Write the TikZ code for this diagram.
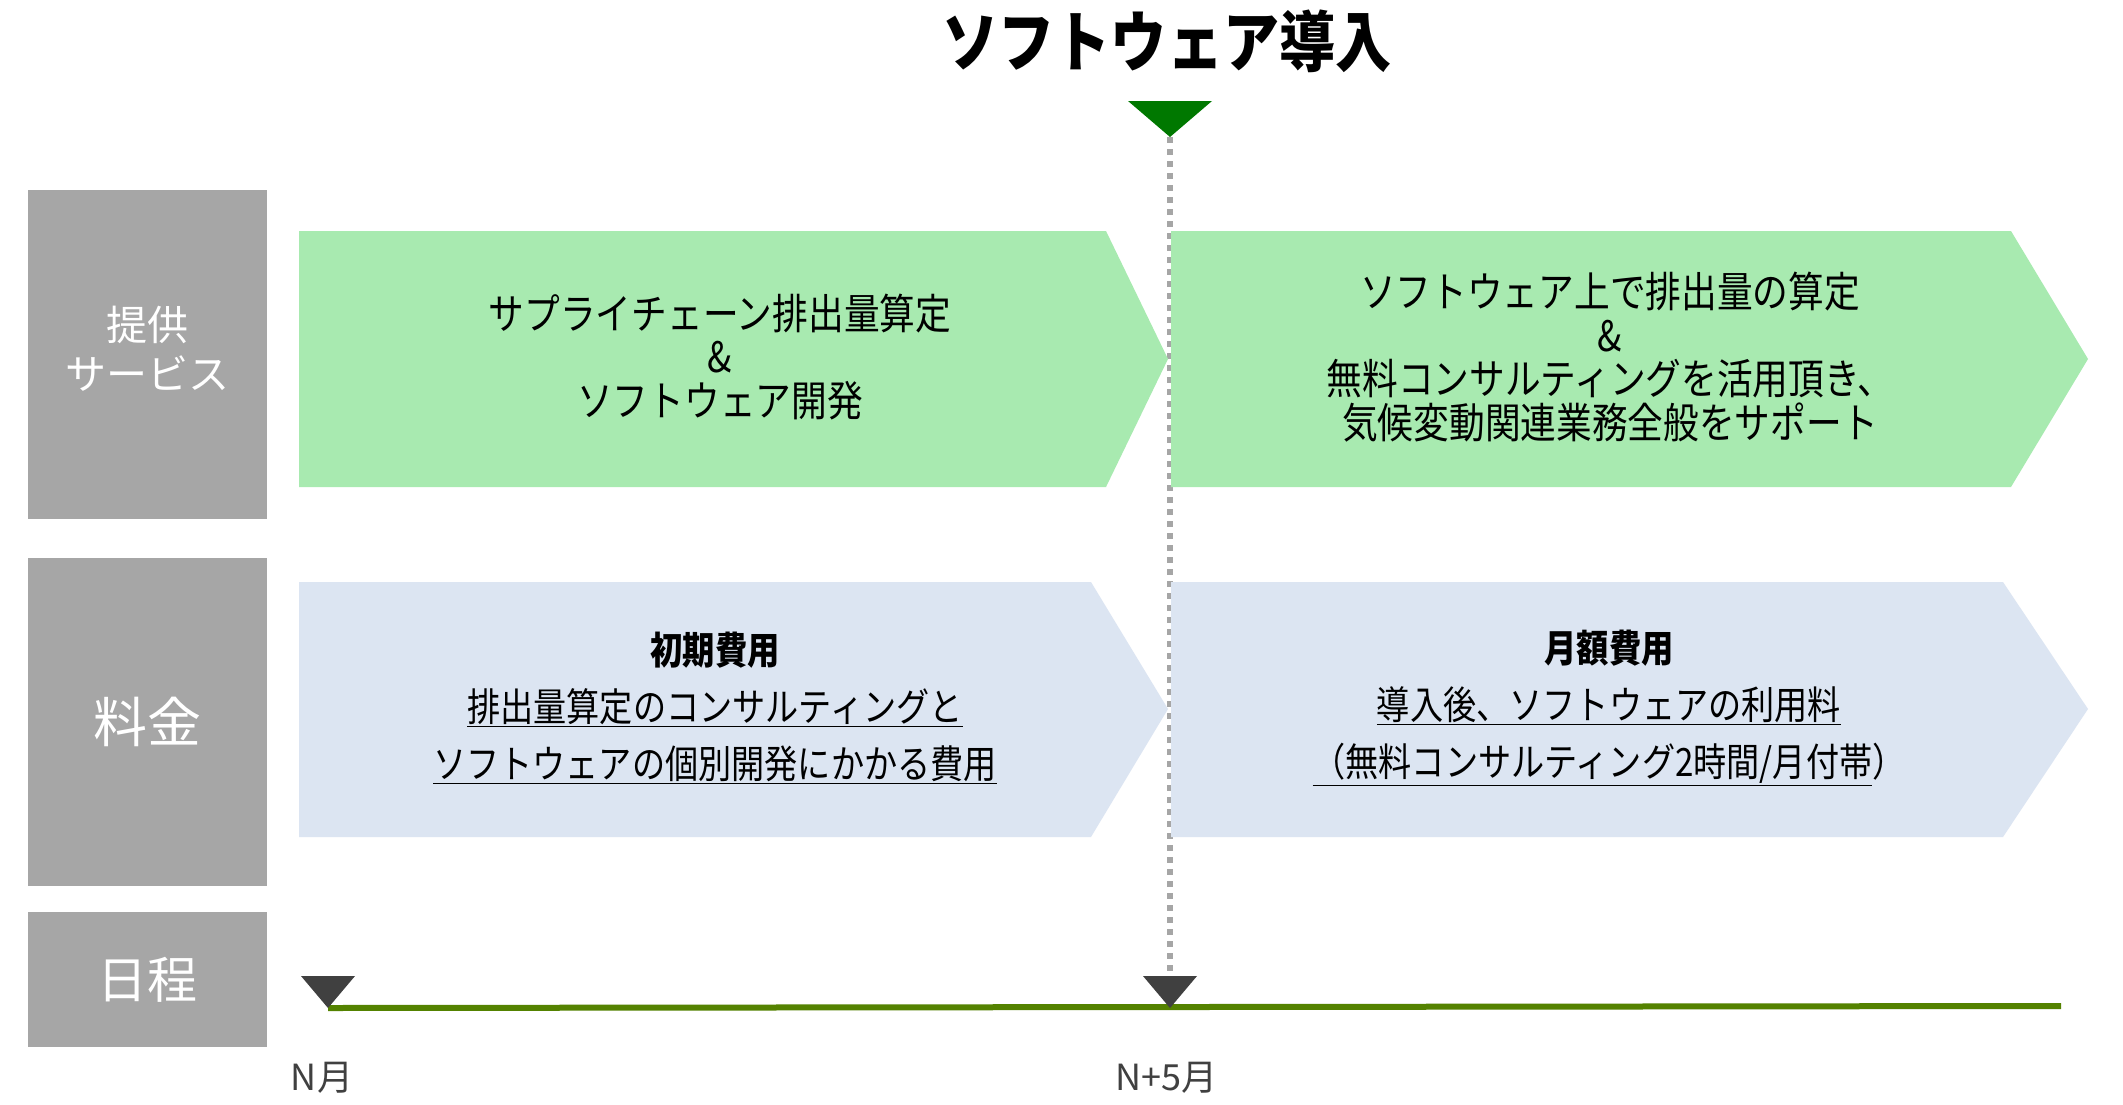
\documentclass[tikz,border=0pt]{standalone}
\usepackage{fontspec}
\newfontfamily\jpc{Noto Sans CJK JP}[FakeStretch=0.85]
\newfontfamily\jpn{Noto Sans CJK JP}
\definecolor{labelgray}{HTML}{A6A6A6}
\definecolor{chevgreen}{HTML}{A8EAB0}
\definecolor{chevblue}{HTML}{DCE5F2}
\definecolor{markgreen}{HTML}{007800}
\definecolor{markdark}{HTML}{404040}
\definecolor{lineolive}{HTML}{548200}
\begin{document}
\begin{tikzpicture}[x=1pt,y=-1pt,
  graybox/.style={fill=labelgray, text=white, align=center, inner sep=0pt, minimum width=239pt},
  chevgreenfill/.style={fill=chevgreen},
  chevbluefill/.style={fill=chevblue},
  bodytext/.style={align=center, inner sep=0pt, text=black},
  marktri/.style={fill=markdark},
  datelabel/.style={inner sep=0pt, text=markdark, font=\jpn\fontsize{36pt}{40pt}\selectfont}
]
\useasboundingbox (0,0) rectangle (2123,1104);
\fill[white] (0,0) rectangle (2123,1104);

% title
\node[inner sep=0pt, font=\jpc\bfseries\fontsize{66pt}{70pt}\selectfont] (title) at (1167,41) {ソフトウェア導入};

% gray labels
\node[graybox, minimum height=329pt, font=\jpn\fontsize{41pt}{49pt}\selectfont] (svc) at (147.5,354.5) {};
\node[text=white, align=center, inner sep=0pt, font=\jpn\fontsize{41pt}{49pt}\selectfont] (svctext) at (147.5,349) {提供\\サービス};
\node[graybox, minimum height=328pt, font=\jpn\fontsize{54pt}{60pt}\selectfont] (fee) at (147.5,722) {料金};
\node[graybox, minimum height=135pt, font=\jpn\fontsize{50pt}{56pt}\selectfont] (sched) at (147.5,979.5) {日程};

% key points of the timeline
\coordinate (topapex) at (1170,137);
\coordinate (midapex) at (1170,1008);
\coordinate (startapex) at (328,1008);
\coordinate (lineend) at (2061,1006);

% dotted guide
\draw[labelgray, line width=5.5pt, dash pattern=on 6pt off 6pt] (topapex) -- (midapex);

% chevrons
\fill[chevgreenfill] (299,231) -- (1106,231) -- (1168,359) -- (1106,487) -- (299,487) -- cycle;
\fill[chevgreenfill] (1171,231) -- (2011,231) -- (2088,359) -- (2011,487) -- (1171,487) -- cycle;
\fill[chevbluefill] (299,582) -- (1091,582) -- (1168,709) -- (1091,837) -- (299,837) -- cycle;
\fill[chevbluefill] (1171,582) -- (2003,582) -- (2088,709) -- (2003,837) -- (1171,837) -- cycle;

% chevron texts
\node[bodytext, font=\jpc\fontsize{42pt}{43.5pt}\selectfont] (svc1) at (720,357)
  {サプライチェーン排出量算定\\\&\\ソフトウェア開発};
\node[bodytext, font=\jpc\fontsize{42pt}{43.5pt}\selectfont] (svc2) at (1610,357)
  {ソフトウェア上で排出量の算定\\\&\\無料コンサルティングを活用頂き、\\気候変動関連業務全般をサポート};
\node[bodytext, font=\jpc\fontsize{39pt}{57pt}\selectfont] (fee1) at (715,708)
  {{\bfseries\fontsize{38pt}{57pt}\selectfont 初期費用}\\\underline{排出量算定のコンサルティングと}\\\underline{ソフトウェアの個別開発にかかる費用}};
\node[bodytext, font=\jpc\fontsize{39pt}{57pt}\selectfont] (fee2) at (1609,708)
  {{\bfseries\fontsize{38pt}{57pt}\selectfont 月額費用}\\\underline{導入後、ソフトウェアの利用料}\\\underline{（無料コンサルティング2時間/月付帯}）};

% top marker
\fill[markgreen] (topapex) -- ++(-42,-36) -- ++(84,0) -- cycle;

% time line
\draw[lineolive, line width=6pt] (startapex) -- (lineend);
\fill[marktri] (startapex) -- ++(-27,-32) -- ++(54,0) -- cycle;
\fill[marktri] (midapex) -- ++(-27,-32) -- ++(54,0) -- cycle;

% date labels
\node[datelabel] (m0) at (322,1078) {N月};
\node[datelabel] (m5) at (1166,1078) {N+5月};
\end{tikzpicture}
\end{document}
